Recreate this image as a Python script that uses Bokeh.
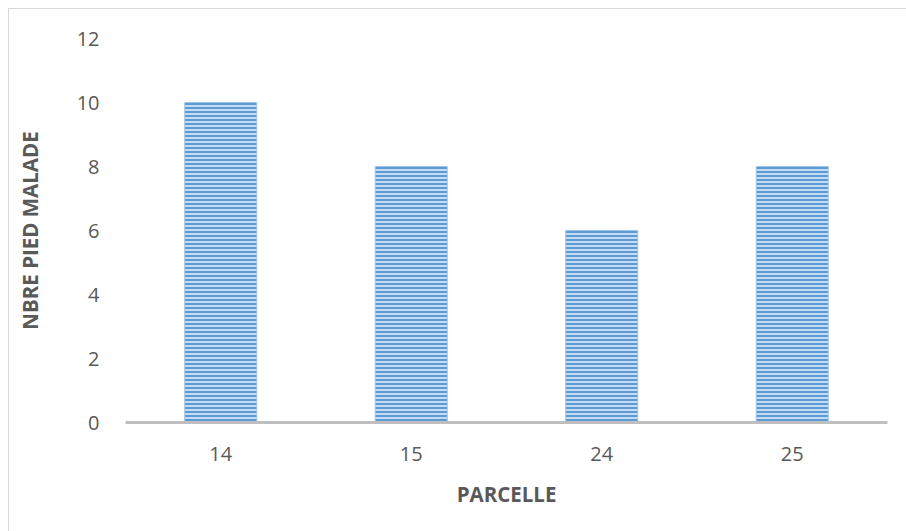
from bokeh.plotting import figure
from bokeh.models import Range1d, SingleIntervalTicker, ColumnDataSource
from bokeh.embed import file_html
from bokeh.resources import INLINE

parcelles = ["14", "15", "24", "25"]
pieds_malades = [10, 8, 6, 8]

source = ColumnDataSource(data=dict(parcelle=parcelles, nb=pieds_malades))

p = figure(x_range=parcelles, y_range=Range1d(0, 12), width=898, height=523,
           output_backend="svg", toolbar_location=None,
           min_border_left=116, min_border_right=20, min_border_top=29, min_border_bottom=110)
p.margin = (8, 0, 0, 8)
p.styles = {"border-top": "1px solid #d9d9d9", "border-left": "1px solid #d9d9d9"}
p.outline_line_color = None
p.background_fill_color = "white"
p.border_fill_color = "white"

p.vbar(x="parcelle", top="nb", width=0.378, source=source,
       fill_color="#c4dbf1", line_color="#9fc5e8", line_width=1,
       hatch_pattern="horizontal_line", hatch_color="#5b9bd5",
       hatch_scale=4, hatch_weight=2)

p.xgrid.grid_line_color = None
p.ygrid.grid_line_color = None

p.yaxis.ticker = SingleIntervalTicker(interval=2)
p.yaxis.axis_line_color = None
p.yaxis.major_tick_line_color = None
p.yaxis.minor_tick_line_color = None
p.yaxis.major_label_standoff = 20
p.yaxis.axis_label = "NBRE PIED MALADE"
p.yaxis.axis_label_standoff = 30

p.xaxis.axis_line_color = "#bfbfbf"
p.xaxis.axis_line_width = 3
p.xaxis.major_tick_line_color = None
p.xaxis.minor_tick_line_color = None
p.xaxis.major_label_standoff = 18
p.xaxis.axis_label = "PARCELLE"
p.xaxis.axis_label_standoff = 16

for ax in (p.xaxis, p.yaxis):
    ax.major_label_text_font = "Open Sans"
    ax.major_label_text_font_size = "20px"
    ax.major_label_text_color = "#595959"
    ax.axis_label_text_font = "Open Sans"
    ax.axis_label_text_font_size = "20.5px"
    ax.axis_label_text_font_style = "bold"
    ax.axis_label_text_color = "#595959"

open("out.html", "w").write(file_html(p, INLINE))
